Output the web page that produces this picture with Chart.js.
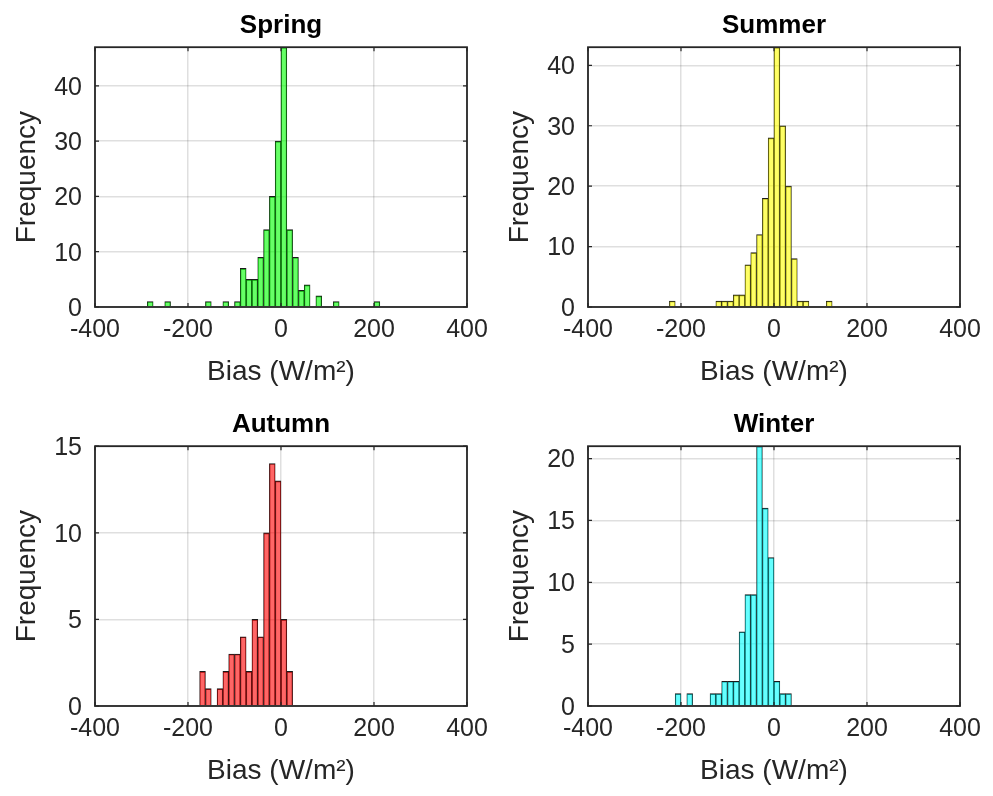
<!DOCTYPE html>
<html>
<head>
<meta charset="utf-8">
<script src="https://cdn.jsdelivr.net/npm/chart.js@4.4.1/dist/chart.umd.min.js"></script>
<style>
  html, body { margin: 0; padding: 0; background: #fff; overflow: hidden; }
  #wrap { position: relative; width: 993px; height: 796px; }
  canvas { position: absolute; }
</style>
</head>
<body>
<div id="wrap">
  <canvas id="spring" width="496" height="398" style="left:0;top:0"></canvas>
  <canvas id="summer" width="496" height="398" style="left:493px;top:0"></canvas>
  <canvas id="autumn" width="496" height="398" style="left:0;top:399px"></canvas>
  <canvas id="winter" width="496" height="398" style="left:493px;top:399px"></canvas>
</div>
<script>
// histogram bins (left edges, W/m2), all seasons share them
const binWidth = 12.5;
const binEdges = [-287.5, -275, -262.5, -250, -237.5, -225, -212.5, -200, -187.5, -175,
  -162.5, -150, -137.5, -125, -112.5, -100, -87.5, -75, -62.5, -50,
  -37.5, -25, -12.5, 0, 12.5, 25, 37.5, 50, 62.5, 75,
  87.5, 100, 112.5, 125, 137.5, 150, 162.5, 175, 187.5, 200];

const springCounts = [1, 0, 0, 1, 0, 0, 0, 0, 0, 0, 1, 0, 0, 1, 0, 1, 7, 5, 5, 9,
  14, 20, 30, 47, 14, 9, 3, 4, 0, 2, 0, 0, 1, 0, 0, 0, 0, 0, 0, 1];
const summerCounts = [0, 0, 0, 0, 0, 1, 0, 0, 0, 0, 0, 0, 0, 1, 1, 1, 2, 2, 7, 9,
  12, 18, 28, 43, 30, 20, 8, 1, 1, 0, 0, 0, 1, 0, 0, 0, 0, 0, 0, 0];
const autumnCounts = [0, 0, 0, 0, 0, 0, 0, 0, 0, 2, 1, 0, 1, 2, 3, 3, 4, 2, 5, 4,
  10, 14, 13, 5, 2, 0, 0, 0, 0, 0, 0, 0, 0, 0, 0, 0, 0, 0, 0, 0];
const winterCounts = [0, 0, 0, 0, 0, 0, 1, 0, 1, 0, 0, 0, 1, 1, 2, 2, 2, 6, 9, 9,
  21, 16, 12, 2, 1, 1, 0, 0, 0, 0, 0, 0, 0, 0, 0, 0, 0, 0, 0, 0];

const xTicks = [-400, -200, 0, 200, 400];

Chart.defaults.font.family = "'Liberation Sans', Arial, Helvetica, sans-serif";
Chart.defaults.color = '#262626';

const gridColor = 'rgba(38,38,38,0.15)';

// box around the axes plus small inward tick marks, like matlab
const frame = {
  id: 'frame',
  afterDatasetsDraw(chart) {
    const { ctx, chartArea: a, scales: { x, y } } = chart;
    ctx.save();
    ctx.strokeStyle = '#262626';
    ctx.lineWidth = 1.2;
    ctx.beginPath();
    x.ticks.forEach(t => {
      const px = x.getPixelForValue(t.value);
      ctx.moveTo(px, a.bottom); ctx.lineTo(px, a.bottom - 4);
      ctx.moveTo(px, a.top); ctx.lineTo(px, a.top + 4);
    });
    y.ticks.forEach(t => {
      const py = y.getPixelForValue(t.value);
      ctx.moveTo(a.left, py); ctx.lineTo(a.left + 4, py);
      ctx.moveTo(a.right, py); ctx.lineTo(a.right - 4, py);
    });
    ctx.stroke();
    ctx.lineWidth = 1.8;
    ctx.strokeRect(a.left, a.top, a.width, a.height);
    ctx.restore();
  }
};

function makeHist(id, title, counts, fill, yMax, yStep) {
  const points = binEdges.map((e, i) => ({ x: e + binWidth / 2, y: counts[i] || null }));
  return new Chart(document.getElementById(id), {
    type: 'bar',
    data: {
      datasets: [{
        data: points,
        backgroundColor: fill,
        borderColor: '#1a1a1a',
        borderWidth: { top: 1, left: 0.6, right: 0.6, bottom: 0 },
        borderSkipped: false,
        barPercentage: 1,
        categoryPercentage: 1
      }]
    },
    options: {
      responsive: false,
      animation: false,
      layout: { padding: { left: 0, right: 29, top: 0, bottom: 0 } },
      plugins: {
        legend: { display: false },
        tooltip: { enabled: false },
        title: {
          display: true,
          text: title,
          fullSize: false,
          color: '#000',
          font: { size: 26, weight: 'bold' },
          padding: { top: 10, bottom: 6 }
        }
      },
      scales: {
        x: {
          type: 'linear',
          min: -400,
          max: 400,
          offset: false,
          grid: { color: gridColor, lineWidth: 1.5, drawTicks: false, offset: false },
          border: { display: false },
          afterBuildTicks: s => { s.ticks = xTicks.map(v => ({ value: v })); },
          ticks: { padding: 8, maxRotation: 0, autoSkip: false, font: { size: 25 } },
          title: { display: true, text: 'Bias (W/m²)', font: { size: 28 }, padding: { top: 0, bottom: 9 } },
          afterFit: s => { s.height = 91; }
        },
        y: {
          min: 0,
          max: yMax,
          grid: { color: gridColor, lineWidth: 1.5, drawTicks: false },
          border: { display: false },
          ticks: { stepSize: yStep, includeBounds: false, padding: 13, labelOffset: 2, font: { size: 25 } },
          title: { display: true, text: 'Frequency', font: { size: 28 }, padding: { top: 10, bottom: 0 } },
          afterFit: s => { s.width = 95; }
        }
      }
    },
    plugins: [frame]
  });
}

makeHist('spring', 'Spring', springCounts, 'rgba(0,255,0,0.6)', 47, 10);
makeHist('summer', 'Summer', summerCounts, 'rgba(255,255,0,0.6)', 43, 10);
makeHist('autumn', 'Autumn', autumnCounts, 'rgba(255,0,0,0.6)', 15, 5);
makeHist('winter', 'Winter', winterCounts, 'rgba(0,255,255,0.6)', 21, 5);
</script>
</body>
</html>
